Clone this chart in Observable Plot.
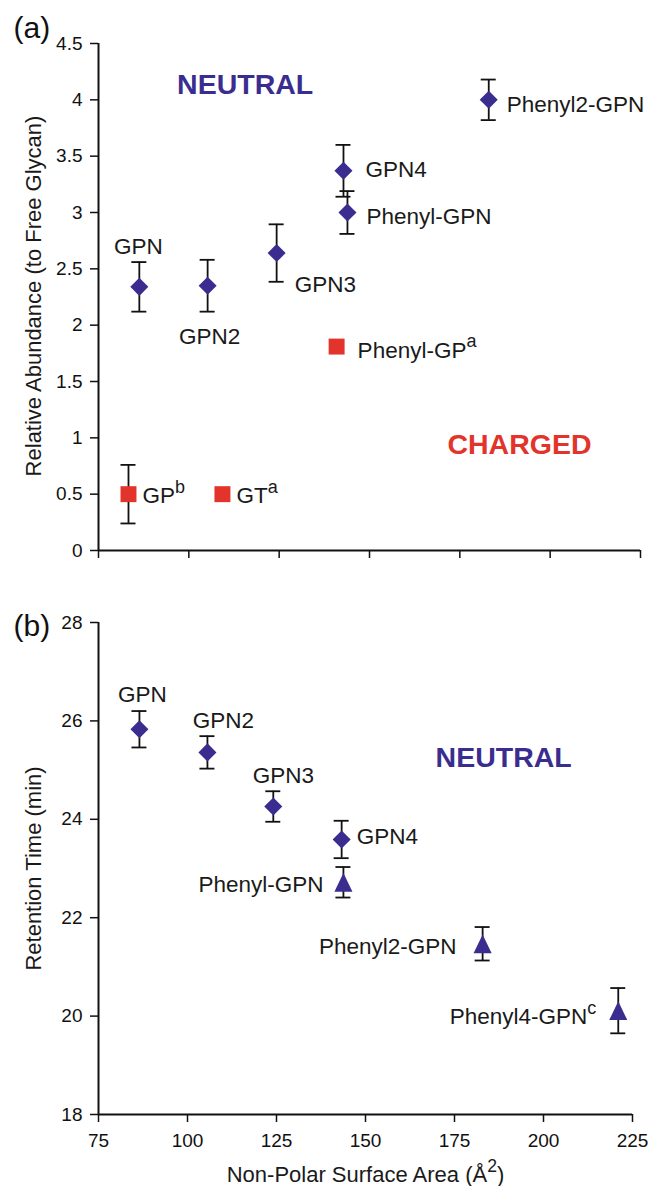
<!DOCTYPE html>
<html><head><meta charset="utf-8">
<script src="https://cdn.jsdelivr.net/npm/d3@7"></script>
<script src="https://cdn.jsdelivr.net/npm/@observablehq/plot@0.6"></script>
<style>
html,body{margin:0;padding:0;background:#fff;overflow:hidden;}
#chart svg{display:block;}
</style></head><body><div id="chart"></div>
<script>
// ---------- Data ----------
const xTicks = [75, 100, 125, 150, 175, 200, 225];
const yTicksA = [0, 0.5, 1, 1.5, 2, 2.5, 3, 3.5, 4, 4.5];
const yTicksB = [18, 20, 22, 24, 26, 28];

// Panel (a) neutral (diamonds)
const neutralNamesA = ["GPN", "GPN2", "GPN3", "GPN4", "Phenyl-GPN", "Phenyl2-GPN"];
const neutralAreaA  = [86.3, 105.2, 124.3, 142.8, 143.9, 183.0];
const neutralAbundA = [2.34, 2.35, 2.64, 3.37, 3.00, 4.00];
const neutralErrA   = [0.22, 0.23, 0.255, 0.23, 0.19, 0.18];

// Panel (a) charged (squares)
const chargedNamesA = ["GP^{b}", "GT^{a}", "Phenyl-GP^{a}"];
const chargedAreaA  = [83.3, 109.3, 140.9];
const chargedAbundA = [0.50, 0.50, 1.81];
const chargedErrA   = [0.26, null, null];

const regionLabelsA = ["NEUTRAL", "CHARGED"];
const regionXA = [115.6, 191.5];
const regionYA = [4.05, 0.86];

// Panel (b)
const namesB = ["GPN", "GPN2", "GPN3", "GPN4", "Phenyl-GPN", "Phenyl2-GPN", "Phenyl4-GPN^{c}"];
const areaB  = [86.5, 105.6, 124.1, 143.3, 143.8, 182.9, 221.0];
const timeB  = [25.83, 25.36, 24.26, 23.59, 22.72, 21.47, 20.11];
const errB   = [0.37, 0.33, 0.31, 0.38, 0.31, 0.34, 0.46];
const shapeB = ["diamond", "diamond", "diamond", "diamond", "triangle", "triangle", "triangle"];

const regionLabelsB = ["NEUTRAL"];
const regionXB = [188.8];
const regionYB = [25.06];

// ---------- Layout / style ----------
const FONT = "'Liberation Sans', Arial, Helvetica, sans-serif";
const NAVY = "#3a2d8f";
const RED = "#e2342b";
const LABEL_FS = 22.5;

const layoutA = {
  "GPN": {anchor: "middle", dx: -1, dy: -33},
  "GPN2": {anchor: "middle", dx: 2, dy: 58},
  "GPN3": {anchor: "start", dx: 18, dy: 39},
  "GPN4": {anchor: "start", dx: 22, dy: 6},
  "Phenyl-GPN": {anchor: "start", dx: 19, dy: 11},
  "Phenyl2-GPN": {anchor: "start", dx: 18, dy: 12},
  "GP^{b}": {anchor: "start", dx: 14, dy: 9},
  "GT^{a}": {anchor: "start", dx: 14, dy: 9},
  "Phenyl-GP^{a}": {anchor: "start", dx: 21, dy: 11}
};
const layoutB = {
  "GPN": {anchor: "middle", dx: 3, dy: -27},
  "GPN2": {anchor: "middle", dx: 16, dy: -24},
  "GPN3": {anchor: "middle", dx: 10, dy: -24},
  "GPN4": {anchor: "start", dx: 15, dy: 5},
  "Phenyl-GPN": {anchor: "end", dx: -20, dy: 10},
  "Phenyl2-GPN": {anchor: "end", dx: -26, dy: 10},
  "Phenyl4-GPN^{c}": {anchor: "end", dx: -22, dy: 13}
};

const diamondSym = {draw(ctx, size) {
  const d = Math.sqrt(2 * size) / 2;
  ctx.moveTo(0, -d); ctx.lineTo(d, 0); ctx.lineTo(0, d); ctx.lineTo(-d, 0); ctx.closePath();
}};
const triangleSym = {draw(ctx, size) {
  const w = Math.sqrt(2 * size), h = w * 1.04;
  ctx.moveTo(0, -h / 2); ctx.lineTo(w / 2, h / 2); ctx.lineTo(-w / 2, h / 2); ctx.closePath();
}};

// ---------- Build tables ----------
const neutralA = neutralNamesA.map((name, i) => ({name, x: neutralAreaA[i], y: neutralAbundA[i], err: neutralErrA[i]}));
const chargedA = chargedNamesA.map((name, i) => ({name, x: chargedAreaA[i], y: chargedAbundA[i], err: chargedErrA[i]}));
const regionsA = regionLabelsA.map((label, i) => ({label, x: regionXA[i], y: regionYA[i]}));
const dataB = namesB.map((name, i) => ({name, x: areaB[i], y: timeB[i], err: errB[i], shape: shapeB[i]}));
const regionsB = regionLabelsB.map((label, i) => ({label, x: regionXB[i], y: regionYB[i]}));

function errorMarks(data) {
  const d = data.filter(v => v.err != null);
  return [
    Plot.ruleX(d, {x: "x", y1: v => v.y - v.err, y2: v => v.y + v.err, stroke: "#111", strokeWidth: 1.8}),
    Plot.ruleY(d, {y: v => v.y + v.err, x1: "x", x2: "x", insetLeft: -7.5, insetRight: -7.5, stroke: "#111", strokeWidth: 1.8}),
    Plot.ruleY(d, {y: v => v.y - v.err, x1: "x", x2: "x", insetLeft: -7.5, insetRight: -7.5, stroke: "#111", strokeWidth: 1.8})
  ];
}
function labelMarks(data, layout) {
  return data.map(d => Plot.text([d], {
    x: "x", y: "y", text: "name",
    textAnchor: layout[d.name].anchor, lineAnchor: "bottom",
    dx: layout[d.name].dx, dy: layout[d.name].dy,
    fontSize: LABEL_FS, fill: "#1a1a1a"
  }));
}

// ---------- Panel (a) ----------
const plotA = Plot.plot({
  width: 649, height: 590,
  marginTop: 43, marginBottom: 40, marginLeft: 98, marginRight: 9,
  x: {domain: [75, 225], label: null},
  y: {domain: [0, 4.5], label: null},
  style: {fontFamily: FONT, fontSize: "19px", color: "#111", background: "#fff"},
  marks: [
    Plot.axisY({ticks: yTicksA, tickSize: 8, tickPadding: 8, tickFormat: d => String(d), strokeWidth: 1.5, label: null}),
    Plot.axisX({ticks: xTicks, tickSize: 8, tickFormat: () => "", strokeWidth: 1.5, label: null}),
    Plot.ruleX([75], {stroke: "#111", strokeWidth: 2}),
    Plot.ruleY([0], {stroke: "#111", strokeWidth: 2}),
    ...errorMarks(neutralA),
    ...errorMarks(chargedA),
    Plot.dot(neutralA, {x: "x", y: "y", symbol: diamondSym, r: 7.2, fill: NAVY, stroke: "none"}),
    Plot.dot(chargedA, {x: "x", y: "y", symbol: "square", r: 9, fill: RED, stroke: "none"}),
    ...labelMarks(neutralA, layoutA),
    ...labelMarks(chargedA, layoutA),
    Plot.text(regionsA, {x: "x", y: "y", text: "label", lineAnchor: "bottom", fontSize: 28.5, fontWeight: "bold",
      fill: d => d.label === "CHARGED" ? RED : NAVY}),
    Plot.text(["(a)"], {text: d => d, frameAnchor: "top-left", textAnchor: "start", lineAnchor: "bottom", dx: -85, dy: -6, fontSize: 30, fill: "#111"}),
    Plot.text(["Relative Abundance (to Free Glycan)"], {text: d => d, frameAnchor: "left", textAnchor: "middle", rotate: -90, lineAnchor: "bottom", dx: -58, dy: -1, fontSize: 22, fill: "#1a1a1a"})
  ]
});

// ---------- Panel (b) ----------
const plotB = Plot.plot({
  width: 649, height: 596,
  marginTop: 32, marginBottom: 72, marginLeft: 98, marginRight: 17,
  x: {domain: [75, 225], label: null},
  y: {domain: [18, 28], label: null},
  style: {fontFamily: FONT, fontSize: "19px", color: "#111", background: "#fff"},
  marks: [
    Plot.axisY({ticks: yTicksB, tickSize: 8, tickPadding: 8, tickFormat: d => String(d), strokeWidth: 1.5, label: null}),
    Plot.axisX({ticks: xTicks, tickSize: 8, tickPadding: 11, tickFormat: d => String(d), strokeWidth: 1.5, label: null}),
    Plot.ruleX([75], {stroke: "#111", strokeWidth: 2}),
    Plot.ruleY([18], {stroke: "#111", strokeWidth: 2}),
    ...errorMarks(dataB),
    Plot.dot(dataB.filter(d => d.shape === "diamond"), {x: "x", y: "y", symbol: diamondSym, r: 7.2, fill: NAVY, stroke: "none"}),
    Plot.dot(dataB.filter(d => d.shape === "triangle"), {x: "x", y: "y", symbol: triangleSym, r: 7.2, fill: NAVY, stroke: "none"}),
    ...labelMarks(dataB, layoutB),
    Plot.text(regionsB, {x: "x", y: "y", text: "label", lineAnchor: "bottom", fontSize: 28.5, fontWeight: "bold", fill: NAVY}),
    Plot.text(["(b)"], {text: d => d, frameAnchor: "top-left", textAnchor: "start", lineAnchor: "bottom", dx: -85, dy: 13, fontSize: 30, fill: "#111"}),
    Plot.text(["Retention Time (min)"], {text: d => d, frameAnchor: "left", textAnchor: "middle", rotate: -90, lineAnchor: "bottom", dx: -58, dy: 0, fontSize: 22, fill: "#1a1a1a"}),
    Plot.text(["Non-Polar Surface Area (Å^{2})"], {text: d => d, frameAnchor: "bottom", textAnchor: "middle", lineAnchor: "bottom", dy: 67, fontSize: 22, fill: "#1a1a1a"})
  ]
});

// ---------- superscripts ----------
function supify(svg) {
  svg.querySelectorAll("text, tspan").forEach(t => {
    if (t.children.length) return;
    const s = t.textContent;
    const m = s.match(/^(.*?)\^\{(.*?)\}(.*)$/);
    if (!m) return;
    const fs = parseFloat(getComputedStyle(t).fontSize) || 22;
    const shift = fs * 0.45;
    t.textContent = "";
    t.appendChild(document.createTextNode(m[1]));
    const sup = document.createElementNS("http://www.w3.org/2000/svg", "tspan");
    sup.setAttribute("font-size", (fs * 0.8).toFixed(1));
    sup.setAttribute("dy", (-shift).toFixed(1));
    sup.textContent = m[2];
    t.appendChild(sup);
    if (m[3]) {
      const post = document.createElementNS("http://www.w3.org/2000/svg", "tspan");
      post.setAttribute("dy", shift.toFixed(1));
      post.textContent = m[3];
      t.appendChild(post);
    }
  });
}

const root = document.getElementById("chart");
root.appendChild(plotA);
root.appendChild(plotB);
supify(plotA);
supify(plotB);
</script>
</body></html>
